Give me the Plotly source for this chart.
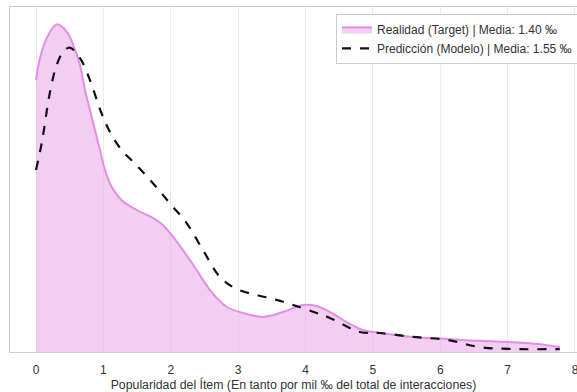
import plotly.graph_objects as go

# Density curves of item popularity (per-mille of total interactions)
real_x = [0.0, 0.059, 0.159, 0.307, 0.455, 0.553, 0.653, 0.727, 0.801, 0.875, 0.950, 1.024,
          1.123, 1.272, 1.494, 1.736, 1.884, 1.988, 2.181, 2.384, 2.582, 2.829, 3.071,
          3.368, 3.665, 3.961, 4.165, 4.362, 4.614, 4.852, 5.104, 5.593, 6.098, 6.588,
          7.077, 7.478, 7.774]
real_y = [0.829, 0.896, 0.957, 0.999, 0.977, 0.936, 0.875, 0.799, 0.738, 0.677, 0.616, 0.555,
          0.504, 0.463, 0.433, 0.409, 0.387, 0.363, 0.311, 0.250, 0.189, 0.138, 0.119,
          0.107, 0.122, 0.143, 0.140, 0.122, 0.091, 0.067, 0.058, 0.046, 0.040, 0.034,
          0.030, 0.024, 0.015]

pred_x = [0.0, 0.085, 0.208, 0.307, 0.405, 0.504, 0.653, 0.800, 0.950, 1.100, 1.270, 1.470,
          1.670, 1.840, 2.000, 2.236, 2.478, 2.730, 2.978, 3.274, 3.571, 3.868, 4.165,
          4.362, 4.807, 5.104, 5.593, 6.098, 6.588, 7.077, 7.774]
pred_y = [0.555, 0.637, 0.793, 0.875, 0.916, 0.928, 0.896, 0.830, 0.740, 0.670, 0.616, 0.574,
          0.530, 0.490, 0.450, 0.393, 0.311, 0.229, 0.192, 0.174, 0.159, 0.140, 0.119,
          0.104, 0.061, 0.058, 0.046, 0.037, 0.015, 0.009, 0.009]

mean_real = 1.40
mean_pred = 1.55
x_ticks = [0, 1, 2, 3, 4, 5, 6, 7, 8]

fig = go.Figure()
fig.add_trace(go.Scatter(
    x=real_x, y=real_y, mode="lines",
    line=dict(color="#E48DE4", width=2, shape="spline", smoothing=1.0),
    fill="tozeroy", fillcolor="rgba(230,165,232,0.55)",
    name=f"Realidad (Target) | Media: {mean_real:.2f} ‰",
))
fig.add_trace(go.Scatter(
    x=pred_x, y=pred_y, mode="lines",
    line=dict(color="#111111", width=2.2, dash="dash", shape="spline", smoothing=1.0),
    name=f"Predicción (Modelo) | Media: {mean_pred:.2f} ‰",
))

font_family = "Liberation Sans, Arial, sans-serif"
fig.update_layout(
    width=577, height=392,
    margin=dict(l=10, r=0, t=7, b=40, autoexpand=False),
    plot_bgcolor="white", paper_bgcolor="white",
    font=dict(family=font_family, color="#333333", size=12),
    showlegend=True,
    legend=dict(
        x=0.575, y=0.98, xanchor="left", yanchor="top",
        bgcolor="rgba(255,255,255,0.9)", bordercolor="#CCCCCC", borderwidth=1,
        font=dict(size=12, color="#333333"),
        tracegroupgap=0, itemwidth=30,
    ),
    xaxis=dict(
        range=[-0.386, 8.03], tickvals=x_ticks, ticktext=[str(t) for t in x_ticks],
        showgrid=True, gridcolor="#EBEBEB", gridwidth=1, zeroline=False,
        showline=True, linecolor="#CCCCCC", linewidth=1, mirror=True,
        ticks="", ticklabelstandoff=7, ticklabeloverflow="allow", automargin=False,
        tickfont=dict(size=12, color="#333333"),
        title=dict(text="Popularidad del Ítem (En tanto por mil ‰ del total de interacciones)",
                   font=dict(size=12.3, color="#333333"), standoff=4),
    ),
    yaxis=dict(
        range=[0, 1.052], showticklabels=False, showgrid=False, zeroline=False,
        showline=True, linecolor="#CCCCCC", linewidth=1, ticks="", automargin=False,
    ),
)

fig.write_html("out.html")
